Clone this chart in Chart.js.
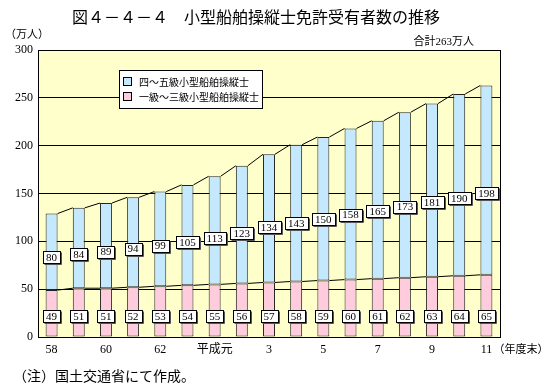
<!DOCTYPE html>
<html>
<head>
<meta charset="utf-8">
<script src="https://cdn.jsdelivr.net/npm/chart.js@4/dist/chart.umd.min.js"></script>
<style>
html,body{margin:0;padding:0;background:#fff;}
#wrap{position:relative;width:551px;height:390px;}
</style>
</head>
<body>
<div id="wrap"><canvas id="c" width="551" height="390"></canvas></div>
<script>
// ---- data ----
const years = ['58','59','60','61','62','63','平成元','2','3','4','5','6','7','8','9','10','11'];
const grade1to3 = [49,51,51,52,53,54,55,56,57,58,59,60,61,62,63,64,65];          // 一級～三級小型船舶操縦士
const grade4to5 = [80,84,89,94,99,105,113,123,134,143,150,158,165,173,181,190,198]; // 四～五級小型船舶操縦士
const yTicks = [0,50,100,150,200,250,300];
const titleText = '図４－４－４　小型船舶操縦士免許受有者数の推移';
const unitText = '（万人）';
const totalText = '合計263万人';
const xUnitText = '（年度末）';
const noteText = '（注）国土交通省にて作成。';

const SERIF = '"Liberation Serif", "Noto Sans CJK JP", serif';
const CJK = '"Noto Sans CJK JP", sans-serif';

function labelBox(ctx, text, x, y){
  ctx.font = '11px ' + SERIF;
  const w = Math.round(ctx.measureText(text).width) + 6;
  const h = 12;
  const l = Math.round(x - w/2) + 0.5, t = Math.round(y - h/2) + 0.5;
  ctx.fillStyle = '#fff';
  ctx.fillRect(l, t, w, h);
  ctx.strokeStyle = '#000';
  ctx.lineWidth = 1;
  ctx.strokeRect(l, t, w, h);
  ctx.beginPath();
  ctx.moveTo(l + w + 1, t + 1); ctx.lineTo(l + w + 1, t + h + 1); ctx.lineTo(l + 1, t + h + 1);
  ctx.strokeStyle = '#555';
  ctx.stroke();
  ctx.fillStyle = '#000';
  ctx.textAlign = 'center';
  ctx.textBaseline = 'middle';
  ctx.fillText(text, x, y + 1);
}

const deco = {
  id: 'deco',
  beforeDraw(chart){
    const {ctx, chartArea:a} = chart;
    ctx.save();
    ctx.fillStyle = '#FFFFCC';
    ctx.fillRect(a.left, a.top, a.right - a.left, a.bottom - a.top);
    ctx.restore();
  },
  afterDatasetsDraw(chart){
    const {ctx, chartArea:a} = chart;
    const ys = chart.scales.y;
    ctx.save();
    ctx.strokeStyle = '#000';
    ctx.lineWidth = 1;
    [0,1].forEach(d => {
      const bars = chart.getDatasetMeta(d).data;
      ctx.beginPath();
      for (let i = 0; i < bars.length - 1; i++){
        const b0 = bars[i], b1 = bars[i+1];
        ctx.moveTo(b0.x + b0.width/2, b0.y);
        ctx.lineTo(b1.x - b1.width/2, b1.y);
      }
      ctx.stroke();
    });
    ctx.strokeStyle = '#000';
    ctx.strokeRect(Math.round(a.left)+0.5, Math.round(a.top)+0.5, Math.round(a.right-a.left), Math.round(a.bottom-a.top));
    const m0 = chart.getDatasetMeta(0).data, m1 = chart.getDatasetMeta(1).data;
    for (let i = 0; i < years.length; i++){
      labelBox(ctx, String(grade1to3[i]), m0[i].x, ys.getPixelForValue(22));
      labelBox(ctx, String(grade4to5[i]), m1[i].x, ys.getPixelForValue(grade1to3[i] + grade4to5[i]*0.43));
    }
    const lx = 119.5, ly = 70.5, lw = 143, lh = 38;
    ctx.fillStyle = '#fff';
    ctx.fillRect(lx, ly, lw, lh);
    ctx.strokeStyle = '#000';
    ctx.strokeRect(lx, ly, lw, lh);
    const items = [chart.data.datasets[1], chart.data.datasets[0]];
    items.forEach((ds, k) => {
      const sy = 77.5 + k*15;
      ctx.fillStyle = ds.backgroundColor;
      ctx.fillRect(123.5, sy, 8, 8);
      ctx.strokeStyle = '#000';
      ctx.strokeRect(123.5, sy, 8, 8);
      ctx.fillStyle = '#000';
      ctx.font = '10px ' + CJK;
      ctx.textAlign = 'left';
      ctx.textBaseline = 'middle';
      ctx.fillText(ds.label, 139, sy + 4.5);
    });
    ctx.restore();
  },
  afterDraw(chart){
    const {ctx} = chart;
    const xs = chart.scales.x;
    ctx.save();
    ctx.fillStyle = '#000';
    ctx.textBaseline = 'middle';
    ctx.textAlign = 'center';
    ctx.font = '16px ' + CJK;
    ctx.fillText(titleText, 256, 17);
    ctx.textAlign = 'left';
    ctx.font = '11px ' + CJK;
    ctx.fillText(unitText, 5, 34);
    ctx.textAlign = 'right';
    ctx.font = '11px ' + SERIF;
    ctx.fillText(totalText, 474, 42);
    ctx.textAlign = 'left';
    ctx.font = '11px ' + CJK;
    ctx.fillText(xUnitText, xs.getPixelForValue(years.length - 1) + 7, 349);
    ctx.font = '14px ' + CJK;
    ctx.fillText(noteText, 13, 376);
    ctx.restore();
  }
};

new Chart(document.getElementById('c'), {
  type: 'bar',
  data: {
    labels: years,
    datasets: [
      { label: '一級～三級小型船舶操縦士', data: grade1to3, backgroundColor: '#FFCCDD', borderColor: '#222', borderWidth: 1, borderSkipped: false },
      { label: '四～五級小型船舶操縦士', data: grade4to5, backgroundColor: '#C4E9FF', borderColor: '#222', borderWidth: 1, borderSkipped: false }
    ]
  },
  options: {
    responsive: false,
    animation: false,
    devicePixelRatio: 1,
    layout: { padding: { left: 0, top: 50, right: 51, bottom: 0 } },
    plugins: { legend: { display: false }, tooltip: { enabled: false }, title: { display: false } },
    datasets: { bar: { categoryPercentage: 1, barPercentage: 0.44 } },
    scales: {
      x: {
        stacked: true,
        grid: { display: false, drawTicks: false },
        border: { display: true, color: '#000' },
        ticks: {
          autoSkip: false, maxRotation: 0, padding: 6, color: '#000',
          font: { family: SERIF, size: 12 },
          callback: (v, i) => (i % 2 === 0 ? years[i] : '')
        },
        afterFit(s){ s.height = 53; }
      },
      y: {
        stacked: true,
        min: 0, max: 300,
        afterBuildTicks(s){ s.ticks = yTicks.map(v => ({value: v})); },
        grid: { color: '#000', drawTicks: false, lineWidth: 1 },
        border: { display: true, color: '#000' },
        ticks: { padding: 5, color: '#000', font: { family: SERIF, size: 12 } },
        afterFit(s){ s.width = 38; }
      }
    }
  },
  plugins: [deco]
});
</script>
</body>
</html>
